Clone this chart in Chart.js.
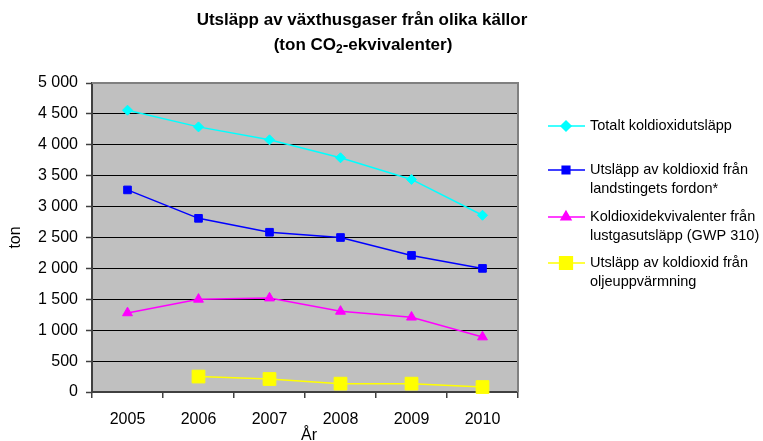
<!DOCTYPE html>
<html>
<head>
<meta charset="utf-8">
<script src="https://cdn.jsdelivr.net/npm/chart.js@4/dist/chart.umd.min.js"></script>
<style>
  html, body { margin: 0; padding: 0; background: #ffffff; }
  #wrap { width: 763px; height: 441px; }
</style>
</head>
<body>
<div id="wrap"><canvas id="c" width="763" height="441"></canvas></div>
<script>
// ---- data ----
const years = ['2005', '2006', '2007', '2008', '2009', '2010'];
const totalCO2 = [4560, 4290, 4080, 3790, 3440, 2860];
const vehicleCO2 = [3270, 2810, 2585, 2500, 2210, 2000];
const nitrousCO2e = [1280, 1500, 1520, 1305, 1210, 890];
const oilHeatingCO2 = [null, 250, 210, 135, 135, 80];
const legendLabels = [
  ['Totalt koldioxidutsläpp'],
  ['Utsläpp av koldioxid från', 'landstingets fordon*'],
  ['Koldioxidekvivalenter från', 'lustgasutsläpp (GWP 310)'],
  ['Utsläpp av koldioxid från', 'oljeuppvärmning']
];
const titleLine1 = 'Utsläpp av växthusgaser från olika källor';
const titleLine2 = ['(ton CO', '2', '-ekvivalenter)'];
const yAxisTitle = 'ton';
const xAxisTitle = 'År';
const yMin = 0, yMax = 5000, yStep = 500;

const FONT = '"Liberation Sans", Arial, sans-serif';

function fmt(v) {
  return String(v).replace(/\B(?=(\d{3})+(?!\d))/g, ' ');
}

function ds(label, data, color, style, radius) {
  return {
    label: label.join(' '),
    data: data,
    borderColor: color,
    backgroundColor: color,
    pointStyle: style,
    pointRadius: radius,
    pointHoverRadius: radius,
    pointBorderWidth: 1,
    borderWidth: 1.5,
    tension: 0,
    clip: false
  };
}

const decor = {
  id: 'decor',
  beforeDraw(chart) {
    const a = chart.chartArea, ctx = chart.ctx;
    ctx.save();
    ctx.fillStyle = '#c0c0c0';
    ctx.fillRect(a.left, a.top, a.right - a.left, a.bottom - a.top);
    ctx.restore();
  },
  beforeDatasetsDraw(chart) {
    const a = chart.chartArea, ctx = chart.ctx;
    ctx.save();
    ctx.strokeStyle = '#808080';
    ctx.lineWidth = 2;
    ctx.beginPath();
    ctx.moveTo(a.left, a.top);
    ctx.lineTo(a.right, a.top);
    ctx.lineTo(a.right, a.bottom);
    ctx.stroke();
    ctx.restore();
  },
  afterDraw(chart) {
    const ctx = chart.ctx, a = chart.chartArea;
    ctx.save();
    ctx.fillStyle = '#000';
    ctx.textBaseline = 'middle';
    // title
    ctx.font = 'bold 17px ' + FONT;
    ctx.textAlign = 'center';
    ctx.fillText(titleLine1, 362, 20);
    // second line with subscript
    const big = 'bold 17px ' + FONT, small = 'bold 12px ' + FONT;
    ctx.font = big; const w1 = ctx.measureText(titleLine2[0]).width;
    ctx.font = small; const w2 = ctx.measureText(titleLine2[1]).width;
    ctx.font = big; const w3 = ctx.measureText(titleLine2[2]).width;
    let x = 363 - (w1 + w2 + w3) / 2;
    ctx.textAlign = 'left';
    ctx.font = big; ctx.fillText(titleLine2[0], x, 45); x += w1;
    ctx.font = small; ctx.fillText(titleLine2[1], x, 50); x += w2;
    ctx.font = big; ctx.fillText(titleLine2[2], x, 45);
    // axis titles
    ctx.font = '16px ' + FONT;
    ctx.textAlign = 'center';
    ctx.fillText(xAxisTitle, 309, 436);
    ctx.save();
    ctx.translate(16, (a.top + a.bottom) / 2);
    ctx.rotate(-Math.PI / 2);
    ctx.fillText(yAxisTitle, 0, 0);
    ctx.restore();
    // legend
    const rows = [126, 170, 217, 263];
    ctx.font = '14.5px ' + FONT;
    ctx.textAlign = 'left';
    chart.data.datasets.forEach((d, i) => {
      const y = rows[i];
      ctx.strokeStyle = d.borderColor;
      ctx.lineWidth = 1.5;
      ctx.beginPath();
      ctx.moveTo(548, y);
      ctx.lineTo(585, y);
      ctx.stroke();
      ctx.fillStyle = d.backgroundColor;
      Chart.helpers.drawPoint(ctx, {pointStyle: d.pointStyle, radius: d.pointRadius, borderWidth: 1, rotation: 0}, 566, y);
      ctx.fillStyle = '#000';
      legendLabels[i].forEach((t, j) => ctx.fillText(t, 590, y + j * 19));
    });
    ctx.restore();
  }
};

new Chart(document.getElementById('c'), {
  type: 'line',
  data: {
    labels: years,
    datasets: [
      ds(legendLabels[0], totalCO2, '#00ffff', 'rectRot', 5),
      ds(legendLabels[1], vehicleCO2, '#0000ff', 'rect', 5.4),
      ds(legendLabels[2], nitrousCO2e, '#ff00ff', 'triangle', 5.7),
      ds(legendLabels[3], oilHeatingCO2, '#ffff00', 'rect', 9)
    ]
  },
  options: {
    responsive: false,
    devicePixelRatio: 1,
    animation: false,
    events: [],
    layout: { padding: { top: 83, right: 245, left: 0, bottom: 0 } },
    plugins: { legend: { display: false }, title: { display: false }, tooltip: { enabled: false } },
    scales: {
      x: {
        type: 'category',
        offset: true,
        grid: { offset: true, drawOnChartArea: false, drawTicks: true, tickLength: 6, color: '#404040', lineWidth: 1.5 },
        border: { color: '#404040', width: 2 },
        ticks: { color: '#000', font: { family: FONT, size: 16 }, padding: 12, maxRotation: 0, autoSkip: false },
        afterFit(s) { s.height = 49; }
      },
      y: {
        min: yMin, max: yMax,
        grid: { color: '#000000', lineWidth: 1, drawTicks: true, tickLength: 6, tickColor: '#404040', tickWidth: 1.5 },
        border: { color: '#404040', width: 2 },
        ticks: { stepSize: yStep, color: '#000', font: { family: FONT, size: 16 }, padding: 8, callback: v => fmt(v) },
        afterFit(s) { s.width = 92; }
      }
    }
  },
  plugins: [decor]
});
</script>
</body>
</html>
